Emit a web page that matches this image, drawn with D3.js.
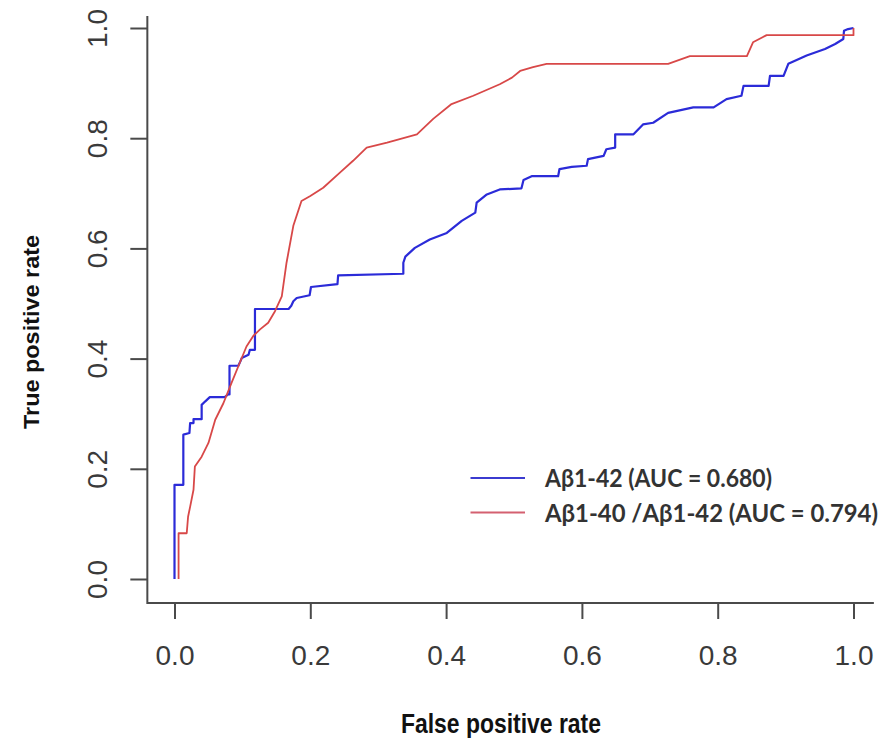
<!DOCTYPE html>
<html>
<head>
<meta charset="utf-8">
<script src="https://cdn.jsdelivr.net/npm/d3@7"></script>
<style>
  html, body { margin: 0; padding: 0; background: #fff; }
  svg { display: block; }
</style>
</head>
<body>
<svg id="chart" width="895" height="738"></svg>
<script>
// ROC curves: false positive rate vs true positive rate
const fprA42 = [0, 0, 0.013, 0.013, 0.022, 0.023, 0.028, 0.028, 0.040, 0.040, 0.045, 0.052, 0.074, 0.079, 0.081, 0.081,
  0.094, 0.097, 0.099, 0.109, 0.111, 0.1185, 0.1185, 0.168, 0.172, 0.175, 0.180, 0.199, 0.201, 0.240, 0.241, 0.337, 0.337,
  0.340, 0.354, 0.376, 0.401, 0.423, 0.443, 0.445, 0.460, 0.479, 0.511, 0.514, 0.526, 0.565, 0.567, 0.585, 0.607, 0.609,
  0.632, 0.636, 0.649, 0.649, 0.676, 0.690, 0.705, 0.727, 0.764, 0.794, 0.813, 0.835, 0.838, 0.875, 0.877, 0.897, 0.904,
  0.931, 0.958, 0.973, 0.985, 0.986, 0.992, 1];
const tprA42 = [0, 0.171, 0.171, 0.262, 0.265, 0.283, 0.283, 0.290, 0.290, 0.316, 0.322, 0.330, 0.330, 0.335, 0.335, 0.387,
  0.387, 0.395, 0.401, 0.407, 0.416, 0.416, 0.490, 0.490, 0.496, 0.504, 0.510, 0.515, 0.530, 0.535, 0.551, 0.554, 0.574,
  0.585, 0.601, 0.616, 0.628, 0.650, 0.665, 0.683, 0.698, 0.707, 0.709, 0.724, 0.731, 0.731, 0.744, 0.748, 0.750, 0.762,
  0.768, 0.780, 0.783, 0.807, 0.807, 0.825, 0.828, 0.846, 0.856, 0.856, 0.871, 0.877, 0.895, 0.895, 0.913, 0.913, 0.935,
  0.950, 0.962, 0.971, 0.980, 0.995, 0.998, 1];

const fprRatio = [0.006, 0.006, 0.018, 0.020, 0.023, 0.028, 0.030, 0.040, 0.050, 0.060, 0.072, 0.084, 0.096, 0.106, 0.116,
  0.126, 0.138, 0.148, 0.158, 0.165, 0.175, 0.187, 0.200, 0.219, 0.244, 0.263, 0.283, 0.313, 0.357, 0.381, 0.408, 0.440,
  0.479, 0.497, 0.509, 0.528, 0.548, 0.727, 0.759, 0.843, 0.852, 0.872, 1, 1];
const tprRatio = [0, 0.083, 0.083, 0.113, 0.131, 0.162, 0.204, 0.222, 0.247, 0.289, 0.319, 0.356, 0.392, 0.422, 0.441,
  0.453, 0.465, 0.486, 0.513, 0.574, 0.641, 0.686, 0.695, 0.710, 0.738, 0.759, 0.783, 0.792, 0.807, 0.835, 0.862, 0.877,
  0.898, 0.910, 0.922, 0.929, 0.935, 0.935, 0.949, 0.949, 0.974, 0.987, 0.987, 1];

const tickValues = [0, 0.2, 0.4, 0.6, 0.8, 1.0];
const seriesNames = ["A\u03B21-42 (AUC = 0.680)", "A\u03B21-40 /A\u03B21-42 (AUC = 0.794)"];
const seriesColors = ["#2b2bd8", "#d84848"];
const legendColors = ["#3b3bd0", "#d46070"];

const svg = d3.select("#chart");
const x = d3.scaleLinear().domain([0, 1]).range([174.5, 853.5]);
const y = d3.scaleLinear().domain([0, 1]).range([579, 28]);

const axisColor = "#4a4a4a";
const fmt = d3.format(".1f");

// L-shaped frame
const xLeft = x(-0.04), xRight = x(1.03), yTop = y(1.022), yBottom = 603;
svg.append("path")
  .attr("d", `M${xLeft},${yTop}V${yBottom}H${xRight}`)
  .attr("fill", "none").attr("stroke", axisColor).attr("stroke-width", 2);

// x axis
const gx = svg.append("g")
  .attr("transform", `translate(0,${yBottom})`)
  .call(d3.axisBottom(x).tickValues(tickValues).tickFormat(fmt).tickSize(16));
gx.select(".domain").remove();
gx.selectAll(".tick line").attr("stroke", axisColor).attr("stroke-width", 2);
gx.selectAll(".tick text")
  .attr("y", 62).attr("dy", 0)
  .attr("fill", "#3a3a3a")
  .style("font-family", "'Liberation Sans', Arial, sans-serif")
  .style("font-size", "28px");

// y axis
const gy = svg.append("g")
  .attr("transform", `translate(${xLeft},0)`)
  .call(d3.axisLeft(y).tickValues(tickValues).tickFormat(fmt).tickSize(17));
gy.select(".domain").remove();
gy.selectAll(".tick line").attr("stroke", axisColor).attr("stroke-width", 2);
gy.selectAll(".tick text")
  .attr("transform", "rotate(-90)")
  .attr("x", 0).attr("y", -40).attr("dy", 0)
  .attr("text-anchor", "middle")
  .attr("fill", "#3a3a3a")
  .style("font-family", "'Liberation Sans', Arial, sans-serif")
  .style("font-size", "28px");

// axis titles
svg.append("text")
  .attr("x", 501).attr("y", 733)
  .attr("text-anchor", "middle")
  .attr("textLength", 200).attr("lengthAdjust", "spacingAndGlyphs")
  .attr("fill", "#111")
  .style("font-family", "'Liberation Sans', Arial, sans-serif")
  .style("font-weight", "bold").style("font-size", "27px")
  .text("False positive rate");

svg.append("text")
  .attr("transform", "translate(39,332) rotate(-90)")
  .attr("text-anchor", "middle")
  .attr("textLength", 194).attr("lengthAdjust", "spacingAndGlyphs")
  .attr("fill", "#111")
  .style("font-family", "'Liberation Sans', Arial, sans-serif")
  .style("font-weight", "bold").style("font-size", "22px")
  .text("True positive rate");

// curves
const series = [
  { fpr: fprA42, tpr: tprA42, width: 2.2 },
  { fpr: fprRatio, tpr: tprRatio, width: 1.8 }
];
const line = d3.line().x(d => x(d[0])).y(d => y(d[1]));
series.forEach((s, i) => {
  svg.append("path")
    .datum(d3.zip(s.fpr, s.tpr))
    .attr("d", line)
    .attr("fill", "none")
    .attr("stroke", seriesColors[i])
    .attr("stroke-width", s.width)
    .attr("stroke-linejoin", "round");
});

// legend
const legend = svg.append("g");
const legendRows = [{ y: 478, baseline: 487, width: 227 }, { y: 512.5, baseline: 522, width: 333 }];
seriesNames.forEach((name, i) => {
  const r = legendRows[i];
  legend.append("line")
    .attr("x1", 470.5).attr("x2", 525)
    .attr("y1", r.y).attr("y2", r.y)
    .attr("stroke", legendColors[i]).attr("stroke-width", 2.2);
  legend.append("text")
    .attr("x", 545).attr("y", r.baseline)
    .attr("textLength", r.width).attr("lengthAdjust", "spacingAndGlyphs")
    .attr("fill", "#333")
    .style("font-family", "Lato, 'Open Sans', sans-serif")
    .style("font-weight", "bold").style("font-size", "25px")
    .text(name);
});
</script>
</body>
</html>
